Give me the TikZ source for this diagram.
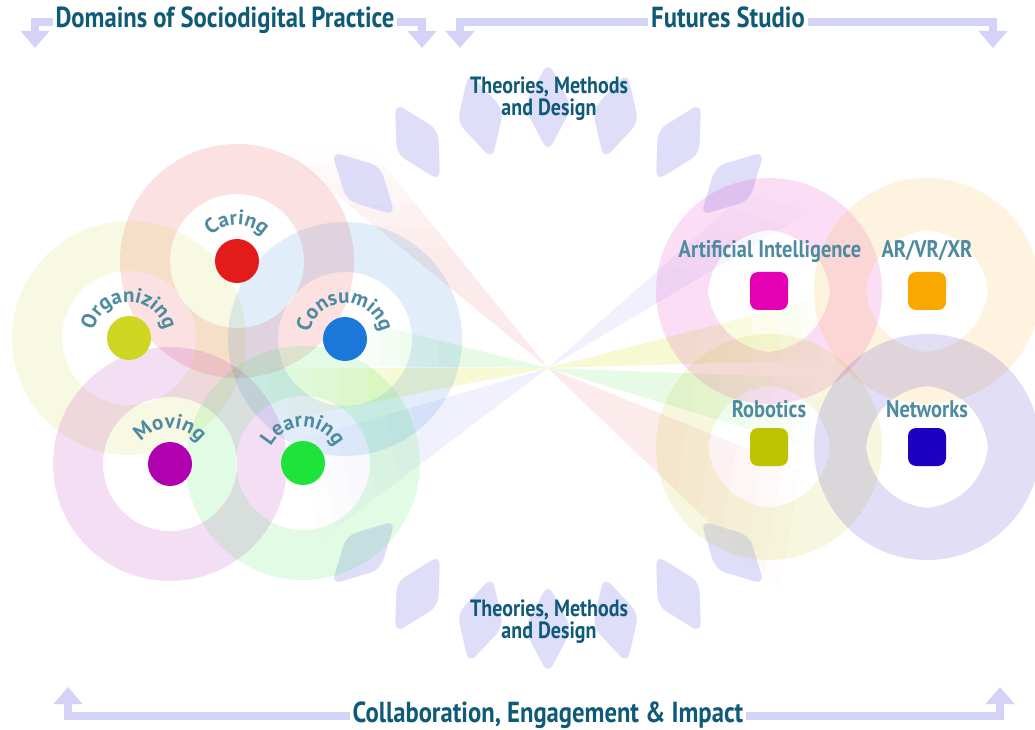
\documentclass[tikz,border=0pt]{standalone}
\usepackage{fontspec}
\setmainfont{PT Sans}
\newfontfamily\hdfont{PT Sans}[FakeStretch=0.85]
\newfontfamily\rfont{PT Sans}
\usetikzlibrary{arrows.meta,decorations.text,calc}
\definecolor{hdr}{HTML}{0E5A78}
\definecolor{lbl}{HTML}{4E8BA1}
\definecolor{barc}{HTML}{D3D3F7}
\definecolor{petalc}{HTML}{D2D2F8}
\definecolor{cCaring}{HTML}{E31B1B}
\definecolor{cOrg}{HTML}{CFD622}
\definecolor{cCons}{HTML}{1B78D8}
\definecolor{cMov}{HTML}{B000B0}
\definecolor{cLearn}{HTML}{1DE33A}
\definecolor{cAI}{HTML}{E600B4}
\definecolor{cAR}{HTML}{F9A800}
\definecolor{cRob}{HTML}{BFC200}
\definecolor{cNet}{HTML}{1E00C0}
\definecolor{rPink}{HTML}{E84040}
\definecolor{rGreen}{HTML}{40E040}
\definecolor{rYellow}{HTML}{D8E830}
\definecolor{rLav}{HTML}{8080F0}
% a wedge from the centre C to the segment (#2)-(#3), fading out towards its end
\newcommand\raywedge[4]{%
  \foreach \ta/\tb/\op in {0/0.55/1, 0.55/0.65/0.85, 0.65/0.75/0.65, 0.75/0.85/0.45, 0.85/0.93/0.27, 0.93/1/0.12}{
    \pgfmathsetmacro\opv{\op*#4}
    \fill[#1, fill opacity=\opv] ($(C)!\ta!(#2)$) -- ($(C)!\tb!(#2)$) -- ($(C)!\tb!(#3)$) -- ($(C)!\ta!(#3)$) -- cycle;
  }}
\tikzset{
  hd/.style={font=\hdfont\bfseries\fontsize{29}{30}\selectfont, text=hdr, fill=white, inner xsep=3pt, inner ysep=1pt},
  tmd/.style={font=\hdfont\bfseries\fontsize{23.5}{22}\selectfont, text=hdr, align=center, inner sep=0pt},
  rlab/.style={font=\hdfont\bfseries\fontsize{24}{24}\selectfont, text=lbl, inner sep=0pt},
  bar/.style={draw=barc, line width=8pt, line join=miter, {Triangle[width=28pt,length=17pt]}-{Triangle[width=28pt,length=17pt]}},
  dotn/.style={circle, minimum size=44pt, inner sep=0pt},
  sqn/.style={rectangle, rounded corners=8pt, minimum size=38pt, inner sep=0pt},
  petal/.style={fill=petalc, fill opacity=0.72, rounded corners=10pt},
  ring/.style={fill=#1, fill opacity=0.13, even odd rule},
  curv/.style={decorate, decoration={text along path, text align=center, text color=lbl,
      text={|\rfont\bfseries\fontsize{21}{21}\selectfont|#1}}},
}
\begin{document}
\begin{tikzpicture}[x=1pt,y=1pt]
\useasboundingbox (0,0) rectangle (1035,729);
\fill[white] (0,0) rectangle (1035,729);
\coordinate (C) at (548,361);

% rays (bow ties through the centre)
\coordinate (pk1) at (282,579); \coordinate (pk2) at (372,579);
\coordinate (pk3) at (800,259); \coordinate (pk4) at (780,139);
\coordinate (lv1) at (760,549); \coordinate (lv2) at (830,529);
\coordinate (lv3) at (300,289); \coordinate (lv4) at (320,189);
\coordinate (gr1) at (350,411); \coordinate (gr2) at (350,363);
\coordinate (gr3) at (810,351); \coordinate (gr4) at (810,281);
\coordinate (ye1) at (270,361); \coordinate (ye2) at (270,307);
\coordinate (ye3) at (820,431); \coordinate (ye4) at (820,369);
\raywedge{rPink}{pk1}{pk2}{0.10}
\raywedge{rPink}{pk3}{pk4}{0.10}
\raywedge{rLav}{lv1}{lv2}{0.11}
\raywedge{rLav}{lv3}{lv4}{0.11}
\raywedge{rGreen}{gr1}{gr2}{0.13}
\raywedge{rGreen}{gr3}{gr4}{0.13}
\raywedge{rYellow}{ye1}{ye2}{0.22}
\raywedge{rYellow}{ye3}{ye4}{0.22}

% petals around the centre
\foreach \a in {45,60,...,135,225,240,...,315}{
  \begin{scope}[shift={(C)}, rotate=\a]
    \path[petal] (216,0) -- (261,24) -- (306,0) -- (261,-24) -- cycle;
  \end{scope}
}

% domain rings (left)
\fill[ring=cCaring] (237,468) circle[radius=117] (237,468) circle[radius=67];
\fill[ring=cOrg] (129,391) circle[radius=117] (129,391) circle[radius=67];
\fill[ring=cCons] (345,390) circle[radius=117] (345,390) circle[radius=67];
\fill[ring=cMov] (170,265) circle[radius=117] (170,265) circle[radius=67];
\fill[ring=cLearn] (303,266) circle[radius=117] (303,266) circle[radius=67];

% studio rings (right)
\fill[ring=cAI] (769,438) circle[radius=113]
  (830,438) to[bend right=38] (769,499) to[bend right=38] (708,438) to[bend right=38] (769,377) to[bend right=38] (830,438) -- cycle;
\fill[ring=cAR] (927,438) circle[radius=113]
  (988,438) to[bend right=38] (927,499) to[bend right=38] (866,438) to[bend right=38] (927,377) to[bend right=38] (988,438) -- cycle;
\fill[ring=cRob] (769,282) circle[radius=113]
  (830,282) to[bend right=38] (769,343) to[bend right=38] (708,282) to[bend right=38] (769,221) to[bend right=38] (830,282) -- cycle;
\fill[ring=cNet] (927,282) circle[radius=113]
  (988,282) to[bend right=38] (927,343) to[bend right=38] (866,282) to[bend right=38] (927,221) to[bend right=38] (988,282) -- cycle;

% dots
\node[dotn, fill=cCaring] (caring) at (237,468) {};
\node[dotn, fill=cOrg] (organizing) at (129,391) {};
\node[dotn, fill=cCons] (consuming) at (345,390) {};
\node[dotn, fill=cMov] (moving) at (170,265) {};
\node[dotn, fill=cLearn] (learning) at (303,266) {};

% squares
\node[sqn, fill=cAI] (ai) at (769,438) {};
\node[sqn, fill=cAR] (ar) at (927,438) {};
\node[sqn, fill=cRob] (rob) at (769,282) {};
\node[sqn, fill=cNet] (net) at (927,282) {};

% curved labels
\path[curv=Caring] (caring.center) ++(170:36) arc[start angle=170, end angle=10, radius=36];
\path[curv=Organizing] (organizing.center) ++(175:36) arc[start angle=175, end angle=5, radius=36];
\path[curv=Consuming] (consuming.center) ++(175:36) arc[start angle=175, end angle=5, radius=36];
\path[curv=Moving] (moving.center) ++(170:36) arc[start angle=170, end angle=10, radius=36];
\path[curv=Learning] (learning.center) ++(170:36) arc[start angle=170, end angle=10, radius=36];

% right labels
\node[rlab, anchor=base] (lai) at (770,471) {Artificial Intelligence};
\node[rlab, anchor=base] (lar) at (927,471) {AR/VR/XR};
\node[rlab, anchor=base] (lrob) at (769,312) {Robotics};
\node[rlab, anchor=base] (lnet) at (927,312) {Networks};

% theories labels
\node[tmd] (tmdtop) at (549,630) {Theories, Methods\\and Design};
\node[tmd] (tmdbot) at (549,107) {Theories, Methods\\and Design};

% header brackets
\draw[bar] (35,681) -- (35,707) -- (422,707) -- (422,681);
\draw[bar] (460,681) -- (460,707) -- (993,707) -- (993,681);
\draw[bar] (68,42) -- (68,13) -- (1000,13) -- (1000,42);

\node[hd, anchor=base] (dom) at (225,701) {Domains of Sociodigital Practice};
\node[hd, anchor=base] (fut) at (728,701) {Futures Studio};
\node[hd, anchor=base] (col) at (548,7) {Collaboration, Engagement \& Impact};
\end{tikzpicture}
\end{document}
